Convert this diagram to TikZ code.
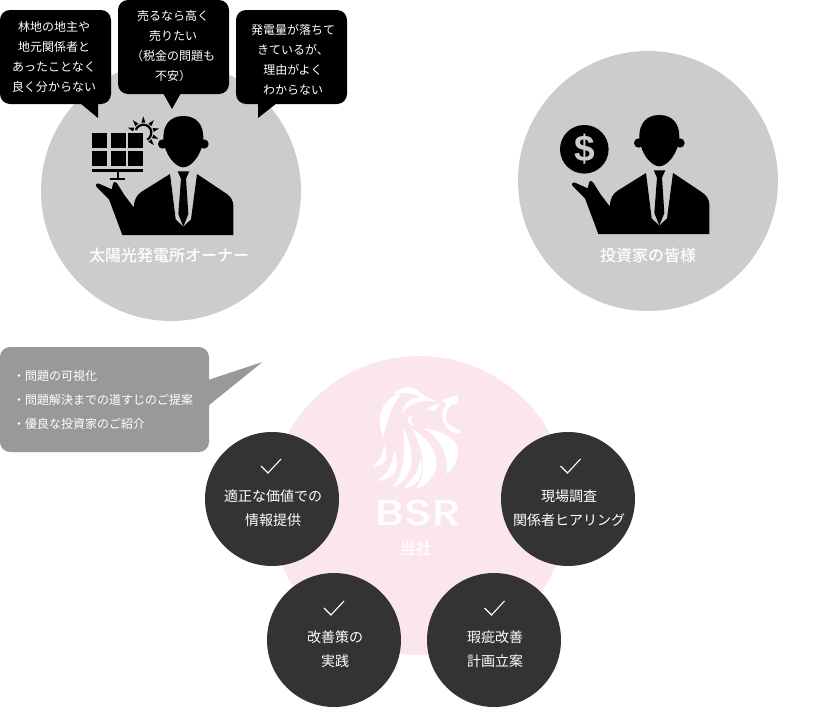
\documentclass[tikz,border=0pt]{standalone}
\usepackage{fontspec}
\setmainfont{Noto Sans CJK JP}
\newfontfamily\labelfont{Noto Sans CJK JP Medium}
\newfontfamily\logofont{Poppins Medium}
\newfontfamily\dollarfont{Liberation Sans}
\definecolor{bgc}{HTML}{CCCCCC}
\definecolor{pinkc}{HTML}{FBE6F0}
\definecolor{darkc}{HTML}{333333}
\definecolor{midc}{HTML}{999999}
\tikzset{
  bigdisc/.style={circle,inner sep=0pt,minimum size=#1,fill=bgc},
  darkdisc/.style={circle,inner sep=0pt,minimum size=134pt,fill=darkc},
  saytext/.style={text=white,align=center,inner sep=0pt,font=\fontsize{12}{20}\selectfont},
  listtext/.style={text=white,anchor=west,inner sep=0pt,font=\fontsize{12}{24}\selectfont},
  disctext/.style={text=white,align=center,inner sep=0pt,font=\fontsize{14}{24}\selectfont},
  labeltext/.style={text=white,inner sep=0pt,font=\labelfont\fontsize{16}{20}\selectfont},
  tick/.style={white,line width=1.1pt},
  person/.pic={
    \begin{scope}[shift={(85,110)},scale=1/3]
      \fill (295,18) .. controls (255,18) and (234,45) .. (235,85)
        .. controls (238,135) and (272,172) .. (295,172)
        .. controls (318,172) and (352,135) .. (355,85)
        .. controls (356,45) and (335,18) .. (295,18) -- cycle;
      \fill (233,102) circle (14);
      \fill (357,102) circle (14);
      \fill (112,375) -- (445,375) -- (445,290)
        .. controls (445,268) and (435,258) .. (420,248)
        -- (336,192) -- (318,328) -- (295,350) -- (272,328) -- (255,192)
        -- (170,245) .. controls (155,255) and (148,268) .. (146,292)
        -- (118,255) -- (100,226) .. controls (95,215) and (85,212) .. (84,222)
        -- (80,238) -- (42,221) .. controls (32,218) and (30,228) .. (38,234)
        -- (72,268) -- cycle;
      \fill (278,184) -- (313,184) -- (303,206) -- (310,312) -- (295,350) -- (280,312) -- (288,206) -- cycle;
    \end{scope}
  }
}
\begin{document}
\begin{tikzpicture}[x=1pt,y=-1pt]
\useasboundingbox (0,0) rectangle (840,707);
\node[bigdisc=260pt] (owner) at (171,191) {};
\node[bigdisc=260pt] (investor) at (648,181) {};
\node[circle,inner sep=0pt,minimum size=299pt,fill=pinkc] (us) at (419,505.5) {};

% owner figure
\pic at (0,0) {person};
\begin{scope}[shift={(85,110)},scale=1/3]
  \begin{scope}[shift={(175,68)}]
    \foreach \a in {-90,-130,-50,-15,22,50,-162}{
      \fill (\a-11:31) -- (\a:49) -- (\a+11:31) -- cycle;
    }
    \draw[line width=2.2pt] (60:24) arc[start angle=60,end angle=-160,radius=24];
  \end{scope}
  \fill[bgc] (16,62) rectangle (180,173);
  \foreach \cx in {22,77,130}{
    \foreach \cy in {68,122}{
      \fill (\cx,\cy) rectangle ++(45,45);
    }
  }
  \fill (22,176) rectangle (175,186);
  \fill (95,186) rectangle (103,205);
  \fill (75,203) rectangle (120,210);
\end{scope}

% investor figure
\pic at (476,-1) {person};
\node[circle,fill=black,inner sep=0pt,minimum size=48.6pt] (coin) at (584.3,149.3) {};
\node[text=bgc,inner sep=0pt,font=\dollarfont\fontsize{37}{37}\selectfont\bfseries] (dollar) at (584.3,149.3) {\$};

% owner bubbles
\fill[black,rounded corners=10pt] (0,10) rectangle (111,104);
\fill[black] (80,103) -- (98,118) -- (98,103) -- cycle;
\fill[black,rounded corners=10pt] (118,0) rectangle (229,94);
\fill[black] (163,93) -- (172,109) -- (181,93) -- cycle;
\fill[black,rounded corners=10pt] (236,10) rectangle (347,104);
\fill[black] (258,103) -- (258,118) -- (277,103) -- cycle;
\node[saytext] (say1) at (54,57) {林地の地主や\\地元関係者と\\あったことなく\\良く分からない};
\node[saytext] (say2) at (173,46) {売るなら高く\\売りたい\\（税金の問題も\\不安）};
\node[saytext] (say3) at (293,60) {発電量が落ちて\\きているが、\\理由がよく\\わからない};

\node[labeltext] (ownerlabel) at (169,255.5) {太陽光発電所オーナー};
\node[labeltext] (investorlabel) at (648,255.5) {投資家の皆様};

% grey bubble
\fill[midc,rounded corners=10pt] (0,347) rectangle (209,452);
\fill[midc] (208,380) -- (262.5,362) -- (208,406) -- cycle;
\node[listtext] (l1) at (13,375.5) {・問題の可視化};
\node[listtext] (l2) at (13,399.5) {・問題解決までの道すじのご提案};
\node[listtext] (l3) at (13,423.5) {・優良な投資家のご紹介};

% lion logo
\begin{scope}[shift={(340,370)},scale=1/3,white]
  \fill (130,205) .. controls (108,150) and (118,85) .. (185,70)
     .. controls (155,105) and (140,150) .. (130,205) -- cycle;
  \fill (160,72) .. controls (190,45) and (225,48) .. (240,68) -- (272,90)
     .. controls (240,82) and (215,62) .. (160,72) -- cycle;
  \fill (186,130) .. controls (190,85) and (240,65) .. (290,94)
     .. controls (240,90) and (210,98) .. (186,130) -- cycle;
  \fill (255,118) -- (300,100) -- (285,123) -- cycle;
  \fill (303,90) -- (355,75) -- (352,100) -- (335,104)
     .. controls (315,120) and (312,150) .. (325,163) -- (365,185) -- (350,192)
     .. controls (312,182) and (292,130) .. (320,104) -- cycle;
  \fill (220,136) .. controls (196,140) and (196,166) .. (225,167)
     .. controls (210,160) and (210,145) .. (220,136) -- cycle;
  \fill (190,175) .. controls (228,250) and (225,325) .. (158,352)
     .. controls (192,310) and (196,250) .. (190,175) -- cycle;
  \fill (215,175) .. controls (280,210) and (305,280) .. (280,315)
     .. controls (270,335) and (250,350) .. (228,356)
     .. controls (262,310) and (252,240) .. (215,175) -- cycle;
  \fill (250,175) .. controls (325,185) and (365,220) .. (352,258)
     .. controls (350,280) and (335,300) .. (318,312)
     .. controls (330,260) and (300,200) .. (250,175) -- cycle;
  \fill (242,265) .. controls (256,310) and (235,352) .. (188,356)
     .. controls (218,330) and (232,310) .. (242,265) -- cycle;
  \fill (163,238) .. controls (185,290) and (165,332) .. (110,332)
     .. controls (142,315) and (155,290) .. (163,238) -- cycle;
  \fill (133,226) .. controls (150,265) and (133,292) .. (95,290)
     .. controls (118,275) and (126,260) .. (133,226) -- cycle;
\end{scope}
\node[text=white,inner sep=0pt,font=\logofont\fontsize{36}{36}\selectfont,xscale=1.27] (bsr) at (418.5,512.5) {BSR};
\node[labeltext] (uslabel) at (415.5,548.5) {当社};

% dark discs
\node[darkdisc] (d1) at (272,499) {};
\node[darkdisc] (d2) at (568,499) {};
\node[darkdisc] (d3) at (334,640) {};
\node[darkdisc] (d4) at (494,640) {};
\node[disctext] (t1) at (273,508) {適正な価値での\\情報提供};
\node[disctext] (t2) at (569,508) {現場調査\\関係者ヒアリング};
\node[disctext] (t3) at (335,649) {改善策の\\実践};
\node[disctext] (t4) at (495,649) {瑕疵改善\\計画立案};
\coordinate (c1) at (271,466);
\coordinate (c2) at (570.5,466);
\coordinate (c3) at (334,608);
\coordinate (c4) at (494.5,608);
\foreach \c in {c1,c2,c3,c4}{
  \draw[tick] ([shift={(-10,0)}]\c) -- ([shift={(-3,7)}]\c) -- ([shift={(10,-7)}]\c);
}
\end{tikzpicture}
\end{document}
